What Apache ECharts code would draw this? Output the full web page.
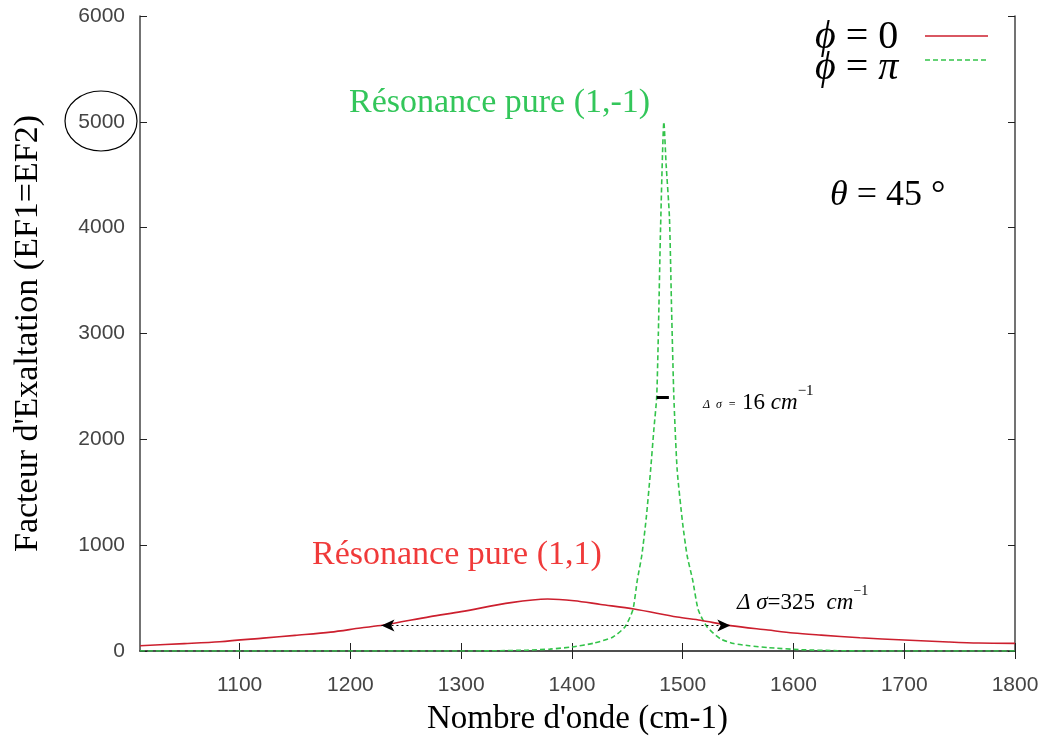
<!DOCTYPE html>
<html>
<head>
<meta charset="utf-8">
<script src="https://cdn.jsdelivr.net/npm/echarts@6/dist/echarts.min.js"></script>
<style>
  html, body { margin: 0; padding: 0; background: #fff; }
  #chart { width: 1046px; height: 738px; }
</style>
</head>
<body>
<div id="chart"></div>
<script>
// phi = 0 : pure resonance (1,1)
var redWave = [1010, 1050, 1082, 1121, 1150, 1182, 1209, 1230, 1272, 1300, 1345, 1378, 1402, 1426, 1456, 1495, 1516, 1543, 1577, 1600, 1625, 1660, 1700, 1740, 1767, 1800];
var redEF   = [50, 70, 88, 122, 148, 178, 217, 245, 325, 372, 457, 491, 475, 440, 397, 321, 290, 240, 198, 170, 150, 125, 104, 85, 75, 72];

// phi = pi : pure resonance (1,-1)
var greenWave = [1010, 1300, 1330, 1360, 1380, 1400, 1420, 1437, 1448, 1455, 1459, 1463, 1467, 1471, 1474, 1476.5, 1478, 1480, 1483, 1485, 1488, 1490, 1492, 1495, 1500, 1504, 1509, 1514, 1522, 1534, 1546, 1560, 1577, 1607, 1640, 1667, 1800];
var greenEF   = [0, 0, 2, 8, 18, 38, 75, 132, 230, 390, 670, 900, 1250, 1710, 2100, 2400, 3000, 4000, 5000, 4600, 4100, 3200, 2400, 1710, 1200, 900, 670, 390, 227, 115, 70, 50, 32, 12, 3, 0, 0];

var xTicks = [1100, 1200, 1300, 1400, 1500, 1600, 1700, 1800];

// width markers
var fwhmRed = [1228, 1543, 240];
var fwhmGreen = [1476.5, 1487.5, 2400];

var redCol = '#cc1f2e';
var greenCol = '#33c34a';

function pairs(xs, ys) {
  var res = [];
  for (var i = 0; i < xs.length; i++) res.push([xs[i], ys[i]]);
  return res;
}

var chart = echarts.init(document.getElementById('chart'));

var axisCol = '#444';
var labelStyle = {
  color: '#444', fontFamily: 'Liberation Sans', fontSize: 21,
  formatter: function (v) { return String(v); }
};

var legendRich = {
  i: { fontFamily: 'Liberation Serif', fontStyle: 'italic', fontSize: 40 },
  n: { fontFamily: 'Liberation Serif', fontSize: 40 }
};

var option = {
  animation: false,
  backgroundColor: '#fff',
  grid: { left: 140, right: 31, top: 16, bottom: 87, containLabel: false, outerBoundsMode: 'none' },
  xAxis: [{
    type: 'value',
    min: 1010,
    max: 1800,
    name: "Nombre d'onde (cm-1)",
    nameLocation: 'middle',
    nameGap: 52,
    nameTextStyle: { fontFamily: 'Liberation Serif', fontSize: 33, color: '#000' },
    axisLine: { lineStyle: { color: axisCol, width: 1.5 } },
    axisTick: { inside: true, length: 8, customValues: xTicks, lineStyle: { color: '#222' } },
    axisLabel: Object.assign({ margin: 24, customValues: xTicks }, labelStyle),
    splitLine: { show: false }
  }, {
    type: 'value',
    position: 'top',
    min: 1010,
    max: 1800,
    axisLine: { lineStyle: { color: axisCol, width: 1.5 } },
    axisTick: { inside: true, length: 8, customValues: xTicks, lineStyle: { color: '#222' } },
    axisLabel: { show: false },
    splitLine: { show: false }
  }],
  yAxis: [{
    type: 'value',
    min: 0,
    max: 6000,
    interval: 1000,
    name: "Facteur d'Exaltation (EF1=EF2)",
    nameLocation: 'middle',
    nameGap: 95,
    nameTextStyle: { fontFamily: 'Liberation Serif', fontSize: 34, color: '#000' },
    axisLine: { show: true, lineStyle: { color: axisCol, width: 1.5 } },
    axisTick: { show: true, inside: true, length: 7, lineStyle: { color: '#222' } },
    axisLabel: Object.assign({ margin: 15 }, labelStyle),
    splitLine: { show: false }
  }, {
    type: 'value',
    position: 'right',
    min: 0,
    max: 6000,
    interval: 1000,
    axisLine: { show: true, lineStyle: { color: axisCol, width: 1.5 } },
    axisTick: { show: true, inside: true, length: 7, lineStyle: { color: '#222' } },
    axisLabel: { show: false },
    splitLine: { show: false }
  }],
  series: [{
    name: 'ϕ=0',
    type: 'line',
    xAxisIndex: 0,
    yAxisIndex: 0,
    showSymbol: false,
    symbol: 'none',
    smooth: 0.3,
    data: pairs(redWave, redEF),
    lineStyle: { color: redCol, width: 1.6 },
    itemStyle: { color: redCol },
    z: 3,
    markLine: {
      silent: true,
      symbol: ['arrow', 'arrow'],
      symbolSize: [9, 13],
      label: { show: false },
      lineStyle: { color: '#000', type: [2, 3], width: 1.2 },
      data: [[{ coord: [fwhmRed[0], fwhmRed[2]] }, { coord: [fwhmRed[1], fwhmRed[2]] }]]
    }
  }, {
    name: 'ϕ=π',
    type: 'line',
    xAxisIndex: 0,
    yAxisIndex: 0,
    showSymbol: false,
    symbol: 'none',
    smooth: 0.2,
    data: pairs(greenWave, greenEF),
    lineStyle: { color: greenCol, width: 1.6, type: [5, 3] },
    itemStyle: { color: greenCol },
    z: 2,
    markLine: {
      silent: true,
      symbol: 'none',
      label: { show: false },
      lineStyle: { color: '#000', type: 'solid', width: 3 },
      data: [[{ coord: [fwhmGreen[0], fwhmGreen[2]] }, { coord: [fwhmGreen[1], fwhmGreen[2]] }]]
    }
  }],
  graphic: [{
    // key
    type: 'text',
    left: 815, top: 17,
    style: { text: '{i|ϕ}{n| = 0}', fill: '#000', rich: legendRich }
  }, {
    type: 'text',
    left: 815, top: 48,
    style: { text: '{i|ϕ}{n| = }{i|π}', fill: '#000', rich: legendRich }
  }, {
    type: 'line',
    shape: { x1: 925, y1: 36, x2: 988, y2: 36 },
    style: { stroke: redCol, lineWidth: 1.6 }
  }, {
    type: 'line',
    shape: { x1: 925, y1: 60, x2: 988, y2: 60 },
    style: { stroke: greenCol, lineWidth: 1.6, lineDash: [5, 3] }
  }, {
    type: 'ellipse',
    shape: { cx: 101, cy: 121, rx: 36, ry: 30 },
    style: { fill: 'none', stroke: '#000', lineWidth: 1.2 }
  }, {
    type: 'text',
    left: 349, top: 86,
    style: { text: 'Résonance pure (1,-1)', fill: '#33c65a', font: '34px "Liberation Serif"' }
  }, {
    type: 'text',
    left: 312, top: 538,
    style: { text: 'Résonance pure (1,1)', fill: '#f03a3a', font: '34px "Liberation Serif"' }
  }, {
    type: 'text',
    left: 830, top: 178,
    style: {
      text: '{i|θ}{n| = 45 °}',
      fill: '#000',
      rich: {
        i: { fontFamily: 'Liberation Serif', fontStyle: 'italic', fontSize: 36 },
        n: { fontFamily: 'Liberation Serif', fontSize: 36 }
      }
    }
  }, {
    type: 'text',
    left: 703, top: 384,
    style: {
      text: '{s|Δ  σ  =  }{n|16 }{i|cm}{u|−1}',
      fill: '#000',
      rich: {
        s: { fontFamily: 'Liberation Serif', fontStyle: 'italic', fontSize: 12, verticalAlign: 'bottom', lineHeight: 30, padding: [0, 0, 3, 0] },
        n: { fontFamily: 'Liberation Serif', fontSize: 23, verticalAlign: 'bottom', lineHeight: 30 },
        i: { fontFamily: 'Liberation Serif', fontStyle: 'italic', fontSize: 23, verticalAlign: 'bottom', lineHeight: 30 },
        u: { fontFamily: 'Liberation Serif', fontSize: 15, verticalAlign: 'top', lineHeight: 30 }
      }
    }
  }, {
    type: 'text',
    left: 737, top: 584,
    style: {
      text: '{i|Δ σ}{n|=325  }{i|cm}{u|−1}',
      fill: '#000',
      rich: {
        n: { fontFamily: 'Liberation Serif', fontSize: 23, verticalAlign: 'bottom', lineHeight: 30 },
        i: { fontFamily: 'Liberation Serif', fontStyle: 'italic', fontSize: 23, verticalAlign: 'bottom', lineHeight: 30 },
        u: { fontFamily: 'Liberation Serif', fontSize: 14, verticalAlign: 'top', lineHeight: 30 }
      }
    }
  }]
};

chart.setOption(option);
</script>
</body>
</html>
